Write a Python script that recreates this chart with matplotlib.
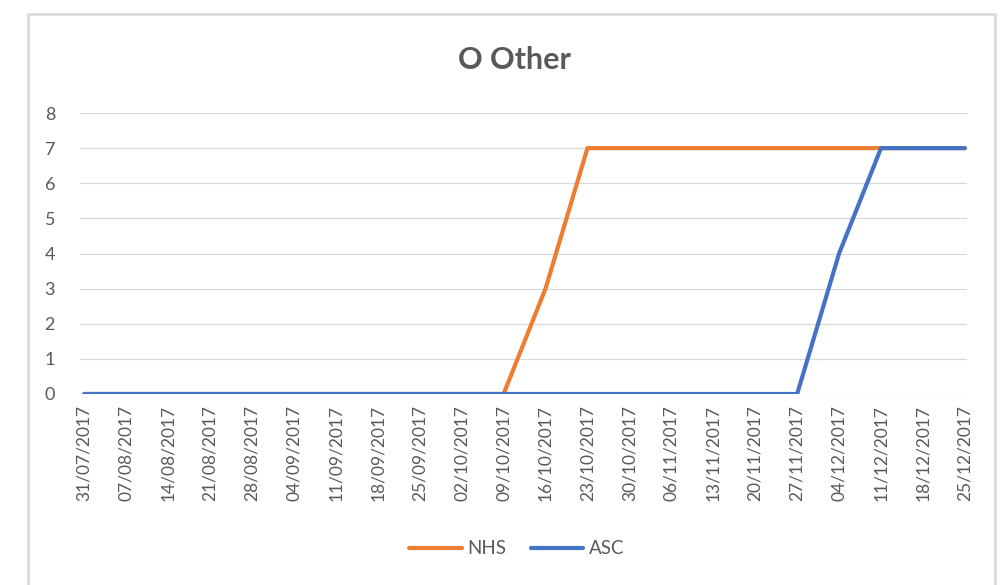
import matplotlib.pyplot as plt
from matplotlib.patches import Rectangle

dates = ['31/07/2017', '07/08/2017', '14/08/2017', '21/08/2017', '28/08/2017',
         '04/09/2017', '11/09/2017', '18/09/2017', '25/09/2017', '02/10/2017',
         '09/10/2017', '16/10/2017', '23/10/2017', '30/10/2017', '06/11/2017',
         '13/11/2017', '20/11/2017', '27/11/2017', '04/12/2017', '11/12/2017',
         '18/12/2017', '25/12/2017']
nhs = [0, 0, 0, 0, 0, 0, 0, 0, 0, 0, 0, 3, 7, 7, 7, 7, 7, 7, 7, 7, 7, 7]
asc = [0, 0, 0, 0, 0, 0, 0, 0, 0, 0, 0, 0, 0, 0, 0, 0, 0, 0, 4, 7, 7, 7]

plt.rcParams['font.family'] = ['Lato', 'DejaVu Sans']
txt = '#595959'

fig = plt.figure(figsize=(10.02, 5.85), dpi=100)
ax = fig.add_axes([80/1002, 191/585, 887/1002, 281/585])

x = list(range(len(dates)))
ax.plot(x, nhs, color='#ED7D31', lw=3, solid_capstyle='round', solid_joinstyle='round', label='NHS', zorder=3)
ax.plot(x, asc, color='#4472C4', lw=3, solid_capstyle='round', solid_joinstyle='round', label='ASC', zorder=4)

ax.set_xlim(-0.1, 21.05)
ax.set_ylim(0, 8)
ax.set_yticks(range(0, 9))
ax.set_xticks(x)
ax.set_xticklabels(dates, rotation=90, color=txt, fontsize=12.5)
ax.tick_params(axis='y', length=0, pad=18, labelsize=13, labelcolor=txt)
ax.tick_params(axis='x', length=0, pad=8)
ax.grid(axis='y', color='#d9d9d9', lw=0.9)
ax.set_axisbelow(True)
for s in ax.spines.values():
    s.set_visible(False)

fig.text(0.513, 1 - 60/585, 'O Other', ha='center', va='center',
         fontsize=22, fontweight='bold', color=txt)

fig.legend(loc='center', bbox_to_anchor=(0.516, 36/585), ncol=2, frameon=False,
           fontsize=13.5, handlelength=2.8, columnspacing=1.3, handletextpad=0.3,
           labelcolor=txt)

fig.add_artist(Rectangle((28/1002, -0.02), 967/1002, 1.0 - 14/585 + 0.02,
                         transform=fig.transFigure, fill=False,
                         edgecolor='#d9d9d9', lw=1.8))

fig.savefig('out.png', dpi=100)
